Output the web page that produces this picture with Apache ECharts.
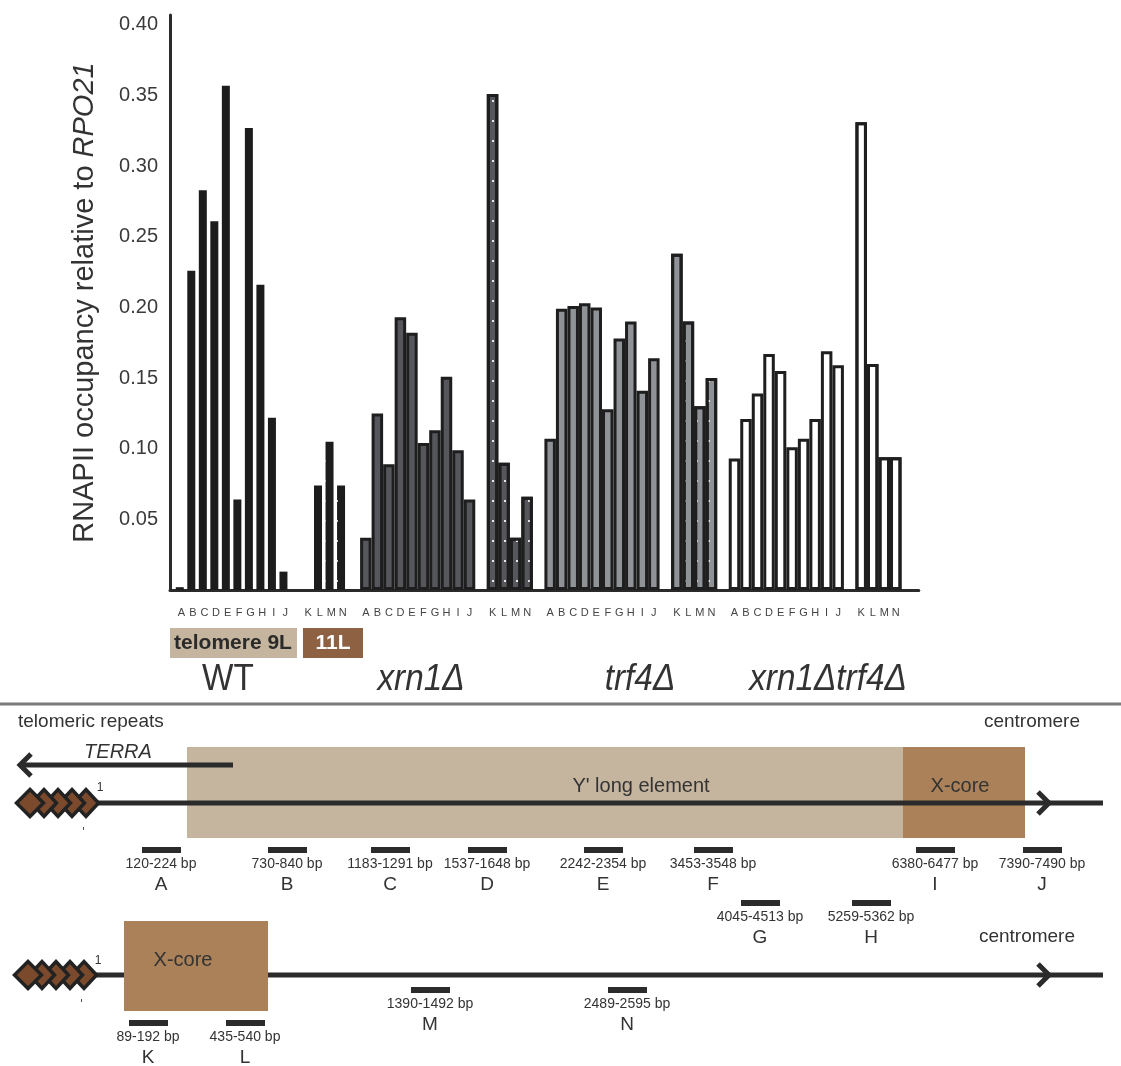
<!DOCTYPE html>
<html><head><meta charset="utf-8">
<script src="https://cdn.jsdelivr.net/npm/echarts@6/dist/echarts.min.js"></script>
<style>html,body{margin:0;padding:0;background:#fff}#c{width:1121px;height:1066px}</style>
</head><body><div id="c"></div>
<script>
// ---------------- data ----------------
const siteLetters = ['A','B','C','D','E','F','G','H','I','J','K','L','M','N'];
const strainNames = ['WT','xrn1Δ','trf4Δ','xrn1Δtrf4Δ'];
const wtValues       = [0.002,0.226,0.283,0.261,0.357,0.064,0.327,0.216,0.122,0.013,null,0.074,0.105,0.074];
const xrn1Values     = [0.037,0.125,0.089,0.193,0.182,0.104,0.113,0.151,0.099,0.064,0.351,0.090,0.037,0.066];
const trf4Values     = [0.107,0.199,0.201,0.203,0.200,0.128,0.178,0.190,0.141,0.164,0.238,0.190,0.130,0.150];
const xrn1trf4Values = [0.093,0.121,0.139,0.167,0.155,0.101,0.107,0.121,0.169,0.159,0.331,0.160,0.094,0.094];
const yTickLabels = ['0.05','0.10','0.15','0.20','0.25','0.30','0.35','0.40'];
const yAxisTitle = 'RNAPII occupancy relative to ';
const yAxisTitleGene = 'RPO21';

// telomere schematic annotations
const amp9LNames  = ['A','B','C','D','E','F','G','H','I','J'];
const amp9LRanges = ['120-224','730-840','1183-1291','1537-1648','2242-2354','3453-3548','4045-4513','5259-5362','6380-6477','7390-7490'];
const amp11LNames  = ['K','L','M','N'];
const amp11LRanges = ['89-192','435-540','1390-1492','2489-2595'];

// ---------------- layout (positions only) ----------------
const amp9LX   = [161,287,390,487,603,713,760,871,935,1042];
const amp9LRow = [0,0,0,0,0,0,1,1,0,0];
const amp11LX   = [148,245,430,627];
const amp11LRow = [1,1,0,0];

// ---------------- build category slots ----------------
const slots = ['pad0'];
const slotIndex = {};
strainNames.forEach((s, gi) => {
  slotIndex[s] = {};
  siteLetters.forEach((L, i) => {
    if (i === 10) slots.push(s + '|gap');
    slotIndex[s][L] = slots.length;
    slots.push(s + '|' + L);
  });
  if (gi < strainNames.length - 1) slots.push(s + '|sep');
});
slots.push('padA', 'padB');

const groupValues = [wtValues, xrn1Values, trf4Values, xrn1trf4Values];
const groupStyles = [
  {color:'#1c1c1c', borderWidth:0, width:8, dot:'rgba(255,255,255,0.85)'},
  {color:'#55575c', borderWidth:3, width:11.5, dot:'rgba(255,255,255,0.85)'},
  {color:'#8f9297', borderWidth:3, width:11.5, dot:'rgba(255,255,255,0.8)'},
  {color:'#ffffff', borderWidth:3, width:11.5, dot:'#222'}
];

const series = [];
strainNames.forEach((s, gi) => {
  [[0,10],[10,14]].forEach(([a,b], seg) => {
    const data = slots.map(() => '-');
    for (let i = a; i < b; i++) {
      const v = groupValues[gi][i];
      data[slotIndex[s][siteLetters[i]]] = (v === null ? '-' : v);
    }
    const st = groupStyles[gi];
    const itemStyle = {color: st.color, borderColor:'#1e1e1e', borderWidth: st.borderWidth};
    if (seg === 1) {
      itemStyle.decal = {symbol:'rect', symbolSize:1, color: st.dot,
        dashArrayX:[2, 9.5], dashArrayY:[2, 18], rotation:0};
    }
    series.push({
      type:'bar', name: s + (seg ? ' 11L' : ' 9L'), data,
      barWidth: st.width, barGap:'-100%', itemStyle,
      silent:true, animation:false
    });
  });
});

// ---------------- graphics for annotations ----------------
const TXT = '#333';
const FF = '"Liberation Sans", Arial, sans-serif';
const g = [];
function text(t, x, y, size, opts) {
  opts = opts || {};
  g.push({type:'text', x, y, scaleX: opts.scaleX || 1, z: 100,
    style:{text:t, x:0, y:0, fill: opts.fill || TXT,
      font: (opts.style || '') + ' ' + (opts.weight || '') + ' ' + size + 'px ' + FF,
      align: opts.align || 'center', verticalAlign:'middle'}});
}
function rect(x, y, w, h, fill, z) {
  g.push({type:'rect', z: z || 10, shape:{x, y, width:w, height:h}, style:{fill}});
}
function line(pts, w, z) {
  g.push({type:'polyline', z: z || 20, shape:{points: pts},
    style:{stroke:'#2b2b2b', lineWidth:w, fill:null, lineJoin:'miter', lineCap:'butt'}});
}
function diamonds(cx0, cy) {
  const cxs = [cx0, cx0+14, cx0+28, cx0+42, cx0+56];
  for (let i = cxs.length - 1; i >= 0; i--) {
    const hw = i === 0 ? 13.5 : 12.5, hh = 13.5;
    g.push({type:'polygon', z: 30 + (cxs.length - i),
      shape:{points:[[cxs[i]-hw,cy],[cxs[i],cy-hh],[cxs[i]+hw,cy],[cxs[i],cy+hh]]},
      style:{fill:'#7b4a2c', stroke:'#222', lineWidth:3.5, lineJoin:'miter'}});
  }
}

// legend-like boxes under the chart
rect(170, 628, 127, 30, '#c5b59f');
text('telomere 9L', 233, 643, 21, {weight:'bold', fill:'#2a2a2a'});
rect(303, 628, 60, 30, '#8d6142');
text('11L', 333, 643, 21, {weight:'bold', fill:'#ffffff'});

// strain labels
const strainX = [228, 421, 640, 828];
strainNames.forEach((s, i) => {
  text(s, strainX[i], 680, 37, {style: i ? 'italic' : '', scaleX: 0.9});
});

// separator
g.push({type:'line', z:5, shape:{x1:0, y1:704, x2:1121, y2:704}, style:{stroke:'#7a7a7a', lineWidth:3}});

// ---- telomere 9L schematic ----
text('telomeric repeats', 18, 722, 19, {align:'left'});
text('centromere', 1080, 722, 19, {align:'right'});
text('TERRA', 118, 752, 20, {style:'italic'});
line([[21,765],[233,765]], 5);
line([[31,754],[20,765],[31,776]], 5);
rect(187, 747, 716, 91, '#c5b59f');
rect(903, 747, 122, 91, '#aa8158');
text("Y' long element", 641, 786, 20);
text('X-core', 960, 786, 20);
line([[90,803],[1103,803]], 5);
line([[1038,792],[1049,803],[1038,814]], 5);
diamonds(30, 803);
text('1', 100, 788, 12, {});
rect(83, 827, 1, 3, '#555', 40);
amp9LNames.forEach((n, i) => {
  const row = amp9LRow[i], cx = amp9LX[i];
  const by = row ? 903 : 850;
  rect(cx - 19, by - 3, 39, 6, '#2b2b2b', 25);
  text(amp9LRanges[i] + ' bp', cx, by + 14, 14);
  text(n, cx, by + 35, 19);
});

// ---- telomere 11L schematic ----
text('centromere', 1075, 937, 19, {align:'right'});
line([[90,975],[1103,975]], 5);
line([[1038,964],[1049,975],[1038,986]], 5);
rect(124, 921, 144, 90, '#aa8158', 22);
text('X-core', 183, 960, 20);
diamonds(28, 975);
text('1', 98, 961, 12, {});
rect(81, 999, 1, 3, '#555', 40);
amp11LNames.forEach((n, i) => {
  const row = amp11LRow[i], cx = amp11LX[i];
  const by = row ? 1023 : 990;
  rect(cx - 19, by - 3, 39, 6, '#2b2b2b', 25);
  text(amp11LRanges[i] + ' bp', cx, by + 14, 14);
  text(n, cx, by + 35, 19);
});

// ---------------- chart ----------------
const chart = echarts.init(document.getElementById('c'), null, {renderer:'canvas'});
chart.setOption({
  animation:false,
  backgroundColor:'#ffffff',
  grid:{left:170, top:15, width:748.8, height:575, containLabel:false},
  xAxis:{
    type:'category', data: slots, boundaryGap:false,
    axisLine:{show:true, lineStyle:{color:'#2a2a2a', width:3}},
    axisTick:{show:false},
    splitLine:{show:false},
    axisLabel:{interval:0, margin:17, fontSize:11, color:'#444', fontFamily:FF,
      formatter: v => { const p = v.split('|'); return (p.length === 2 && p[1].length === 1) ? p[1] : ''; }}
  },
  yAxis:{
    type:'value', min:0, max:0.407, interval:0.05,
    axisLine:{show:true, lineStyle:{color:'#2a2a2a', width:3}},
    axisTick:{show:false},
    splitLine:{show:false},
    axisLabel:{margin:12, fontSize:20, color:'#3a3a3a', fontFamily:FF,
      formatter: v => { const s = v.toFixed(2); return yTickLabels.indexOf(s) >= 0 && v <= 0.4001 ? s : ''; }},
    name: yAxisTitle + '{i|' + yAxisTitleGene + '}',
    nameLocation:'middle', nameGap:71,
    nameTextStyle:{fontSize:29, color:'#333', fontFamily:FF,
      rich:{i:{fontStyle:'italic', fontSize:29, color:'#333', fontFamily:FF}}}
  },
  series,
  graphic: g
});
</script>
</body></html>
